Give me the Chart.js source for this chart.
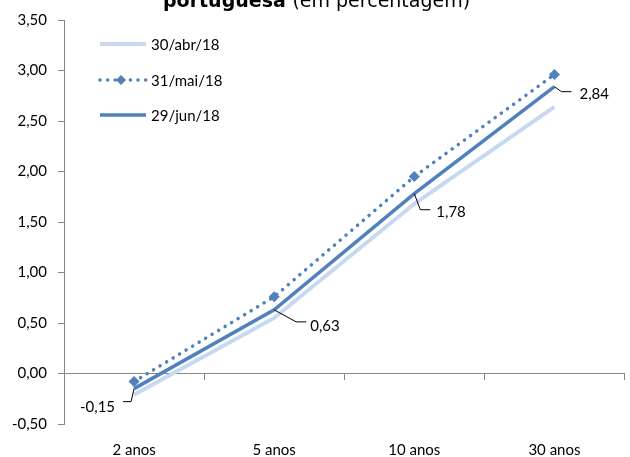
<!DOCTYPE html>
<html>
<head>
<meta charset="utf-8">
<script src="https://cdn.jsdelivr.net/npm/chart.js@4.4.1/dist/chart.umd.min.js"></script>
<style>
  html, body { margin: 0; padding: 0; background: #fff; }
  #wrap { width: 630px; height: 457px; position: relative; }
</style>
</head>
<body>
<div id="wrap"><canvas id="chart"></canvas></div>
<script>
var categories = ['2 anos', '5 anos', '10 anos', '30 anos'];
var seriesNames = ['30/abr/18', '31/mai/18', '29/jun/18'];
var abr18 = [-0.21, 0.55, 1.68, 2.64];
var mai18 = [-0.08, 0.76, 1.95, 2.96];
var jun18 = [-0.15, 0.63, 1.78, 2.84];
var yTicks = { min: -0.5, max: 3.5, step: 0.5 };

var FONT = 'Lato, "Open Sans", sans-serif';
var AXIS = '#868686';
var DARK = '#4f81bd';
var LIGHT = '#c6d9f1';

function fmt(v) {
    return v.toFixed(2).replace('.', ',');
}

// title, only its lower part shows at the top edge
var titlePlugin = {
    id: 'cutTitle',
    afterDraw: function (chart) {
        var ctx = chart.ctx;
        ctx.save();
        ctx.fillStyle = '#000';
        ctx.textBaseline = 'alphabetic';
        ctx.textAlign = 'left';
        ctx.font = 'bold 19px "DejaVu Sans", sans-serif';
        var a = 'portuguesa ';
        var wa = ctx.measureText(a).width;
        ctx.fillText(a, 163, 7);
        ctx.font = '19px "DejaVu Sans", sans-serif';
        ctx.fillText('(em percentagem)', 163 + wa, 7);
        ctx.restore();
    }
};

// legend drawn inside the plot, top-left
var legendPlugin = {
    id: 'innerLegend',
    afterDraw: function (chart) {
        var ctx = chart.ctx;
        var rows = [44, 80, 115];
        ctx.save();
        ctx.font = '15px ' + FONT;
        ctx.textBaseline = 'middle';
        ctx.fillStyle = '#000';
        chart.data.datasets.forEach(function (ds, i) {
            var y = rows[i];
            ctx.beginPath();
            ctx.strokeStyle = ds.borderColor;
            ctx.lineWidth = ds.borderWidth;
            ctx.lineCap = ds.borderCapStyle || 'butt';
            ctx.setLineDash(ds.borderDash || []);
            ctx.moveTo(100, y);
            ctx.lineTo(146, y);
            ctx.stroke();
            ctx.setLineDash([]);
            if (ds.pointRadius > 0) {
                ctx.fillStyle = ds.pointBackgroundColor;
                ctx.beginPath();
                ctx.moveTo(121, y - 5);
                ctx.lineTo(126, y);
                ctx.lineTo(121, y + 5);
                ctx.lineTo(116, y);
                ctx.closePath();
                ctx.fill();
                ctx.fillStyle = '#000';
            }
            ctx.fillText(ds.label, 151, y + 1);
        });
        ctx.restore();
    }
};

// data labels with leader lines for the last series
var leaderPlugin = {
    id: 'leaders',
    afterDatasetsDraw: function (chart) {
        var ctx = chart.ctx;
        var meta = chart.getDatasetMeta(2);
        var values = chart.data.datasets[2].data;
        // [elbow dx, elbow dy, end dx, end dy, text dx, text dy, align]
        var lay = [
            [-3, 13, -11, 13, -19, 19, 'right'],
            [22, 12, 32, 12, 36, 16, 'left'],
            [6, 16, 16, 16, 22, 18, 'left'],
            [7, 5, 17, 5, 25, 7, 'left']
        ];
        ctx.save();
        ctx.strokeStyle = '#000';
        ctx.lineWidth = 1;
        ctx.font = '15px ' + FONT;
        ctx.fillStyle = '#000';
        ctx.textBaseline = 'middle';
        meta.data.forEach(function (pt, i) {
            var l = lay[i];
            ctx.beginPath();
            ctx.moveTo(pt.x, pt.y);
            ctx.lineTo(pt.x + l[0], pt.y + l[1]);
            ctx.lineTo(pt.x + l[2], pt.y + l[3]);
            ctx.stroke();
            ctx.textAlign = l[6];
            ctx.fillText(fmt(values[i]), pt.x + l[4], pt.y + l[5]);
        });
        ctx.restore();
    }
};

new Chart(document.getElementById('chart'), {
    type: 'line',
    data: {
        labels: categories,
        datasets: [
            {
                label: seriesNames[0],
                data: abr18,
                borderColor: LIGHT,
                borderWidth: 4,
                pointRadius: 0,
                tension: 0
            },
            {
                label: seriesNames[1],
                data: mai18,
                borderColor: DARK,
                borderWidth: 3.5,
                borderDash: [0.1, 7.5],
                borderCapStyle: 'round',
                pointStyle: 'rectRot',
                pointRadius: 5.5,
                pointBackgroundColor: DARK,
                pointBorderWidth: 0,
                tension: 0
            },
            {
                label: seriesNames[2],
                data: jun18,
                borderColor: DARK,
                borderWidth: 3.5,
                pointRadius: 0,
                tension: 0
            }
        ]
    },
    options: {
        responsive: true,
        maintainAspectRatio: false,
        animation: false,
        devicePixelRatio: 1,
        layout: { padding: { top: 19, right: 1, left: 0, bottom: 0 } },
        plugins: {
            legend: { display: false },
            tooltip: { enabled: false },
            title: { display: false }
        },
        scales: {
            x: {
                type: 'category',
                offset: true,
                border: { display: false },
                grid: { display: false, drawTicks: false },
                ticks: {
                    padding: 17,
                    color: '#000',
                    font: { family: FONT, size: 15 }
                },
                afterFit: function (s) { s.height = 33; }
            },
            x2: {
                type: 'category',
                offset: true,
                position: { y: 0 },
                border: { display: true, color: AXIS, width: 1 },
                grid: {
                    display: true,
                    offset: true,
                    drawOnChartArea: false,
                    drawTicks: true,
                    tickLength: 6,
                    color: AXIS
                },
                ticks: { display: false },
                afterFit: function (s) { s.height = 0; }
            },
            y: {
                min: yTicks.min,
                max: yTicks.max,
                border: { display: true, color: AXIS, width: 1 },
                grid: {
                    display: true,
                    drawOnChartArea: false,
                    drawTicks: true,
                    tickLength: 6,
                    color: AXIS
                },
                ticks: {
                    stepSize: yTicks.step,
                    padding: 11,
                    color: '#000',
                    font: { family: FONT, size: 15 },
                    callback: function (v) { return fmt(v); }
                },
                afterFit: function (s) { s.width = 64; }
            }
        }
    },
    plugins: [titlePlugin, legendPlugin, leaderPlugin]
});
</script>
</body>
</html>
